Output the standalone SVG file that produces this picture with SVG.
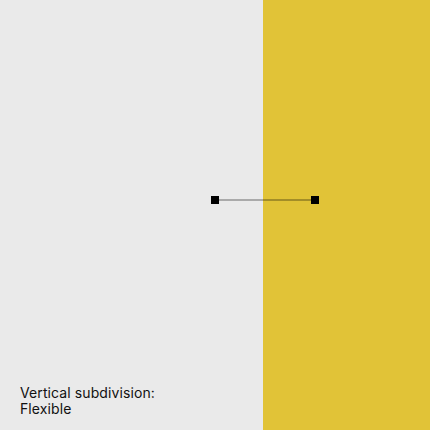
<svg xmlns="http://www.w3.org/2000/svg" width="430" height="430" viewBox="0 0 430 430">
<style>
.h{fill:#000}
.t{font-family:"Inter","Liberation Sans",sans-serif;font-size:14px;letter-spacing:0.1px;fill:#111}
</style>
<rect x="0" y="0" width="430" height="430" fill="#eaeaea"/>
<rect x="263" y="0" width="167" height="430" fill="#e1c337"/>
<g id="connectors">
<line x1="215" y1="200" x2="315" y2="200" stroke="#000" stroke-opacity="0.55" stroke-width="1"/>
</g>
<g id="handle-left"><rect class="h" x="211" y="196" width="8" height="8"/></g>
<g id="handle-right"><rect class="h" x="311" y="196" width="8" height="8"/></g>
<g id="label">
<text class="t" x="20" y="398">Vertical subdivision:</text>
<text class="t" x="20" y="414">Flexible</text>
</g>
</svg>
